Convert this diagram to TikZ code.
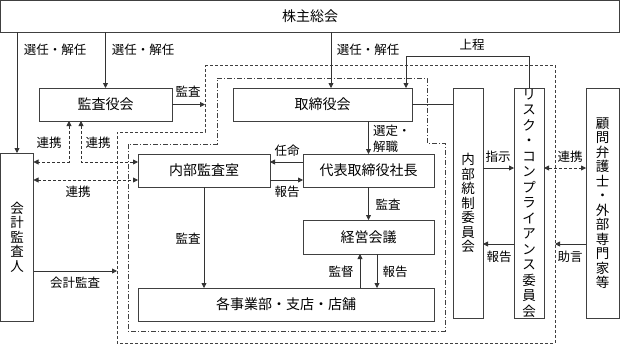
\documentclass[tikz,border=0pt]{standalone}
\usepackage{fontspec}
\setmainfont{Noto Sans CJK JP}
\usetikzlibrary{arrows.meta,calc}
\begin{document}
\begin{tikzpicture}[x=1pt,y=-1pt,
 box/.style={draw=black!75,line width=0.8pt,inner sep=0pt,outer sep=0pt,anchor=north west,font=\fontsize{14}{14}\selectfont},
 vbox/.style={box,align=center,font=\fontsize{13.5}{14.5}\selectfont},
 lbl/.style={font=\fontsize{12.5}{16}\selectfont,inner sep=0pt},
 ln/.style={draw=black!80,line width=0.8pt},
 arr/.style={ln,-{Triangle[length=5pt,width=5pt]}},
 darr/.style={ln,dash pattern=on 3pt off 2pt,{Triangle[length=5pt,width=5pt]}-{Triangle[length=5pt,width=5pt]}},
 outerb/.style={draw=black!75,line width=0.7pt,dash pattern=on 3pt off 2pt},
 innerb/.style={draw=black!75,line width=0.7pt,dash pattern=on 5pt off 2pt on 1pt off 2pt}]
\useasboundingbox (0,0) rectangle (620,345);
% frames
\draw[outerb] (205,65) -- (555,65) -- (555,343) -- (117,343) -- (117,132) -- (205,132) -- cycle;
\draw[innerb] (217,78) -- (427,78) -- (427,143) -- (445,143) -- (445,331) -- (128,331) -- (128,144) -- (217,144) -- cycle;
% boxes
\node[box,minimum width=619pt,minimum height=32pt] (kabu) at (0.5,0.5) {株主総会};
\node[box,minimum width=133pt,minimum height=33pt] (kansayaku) at (39,88) {監査役会};
\node[box,minimum width=179pt,minimum height=33pt] (torishimari) at (233,88) {取締役会};
\node[box,minimum width=132pt,minimum height=33pt] (naibu) at (138,154) {内部監査室};
\node[box,minimum width=131pt,minimum height=33pt] (daihyo) at (303,154) {代表取締役社長};
\node[box,minimum width=131pt,minimum height=34pt] (keiei) at (303,220) {経営会議};
\node[box,minimum width=296pt,minimum height=33pt] (jigyo) at (138,288) {各事業部・支店・店舗};
\node[vbox,minimum width=33pt,minimum height=168pt] (kaikei) at (0.5,153) {会\\計\\監\\査\\人};
\node[vbox,minimum width=30pt,minimum height=230pt] (naibutosei) at (453,88) {内\\部\\統\\制\\委\\員\\会};
\node[vbox,minimum width=30pt,minimum height=230pt,font=\fontsize{13.5}{15.5}\selectfont] (risk) at (514,88) {リ\\ス\\ク\\・\\コ\\ン\\プ\\ラ\\イ\\ア\\ン\\ス\\委\\員\\会};
\node[vbox,minimum width=33pt,minimum height=230pt] (komon) at (586,88) {顧\\問\\弁\\護\\士\\・\\外\\部\\専\\門\\家\\等};
% connectors from shareholders
\draw[arr] (kaikei.north |- kabu.south) -- (kaikei.north);
\node[lbl] at (55,50) {選任・解任};
\draw[arr] (kansayaku.north |- kabu.south) -- (kansayaku.north);
\node[lbl] at (143,50) {選任・解任};
\coordinate (t1) at (331,0);
\draw[arr] (t1 |- kabu.south) -- (t1 |- torishimari.north);
\node[lbl] at (368,50) {選任・解任};
\coordinate (jt) at (406,56);
\draw[arr] (risk.north) |- (jt) -- (jt |- torishimari.north);
\node[lbl] at (472,45) {上程};
\coordinate (od) at (205,104.5);
\draw[arr] (kansayaku.east) -- (od);
\node[lbl] at (188,92) {監査};
\draw[ln] (torishimari.east) -- (torishimari.east -| naibutosei.west);
\draw[arr] (torishimari.south -| daihyo.north) -- (daihyo.north);
\node[lbl,anchor=west,align=left] at (373,139) {選定・\\解職};
\coordinate (r1) at (0,162);
\coordinate (r2) at (0,180);
\draw[arr] (r1 -| daihyo.west) -- (r1 -| naibu.east);
\node[lbl] at (287,151) {任命};
\draw[arr] (r2 -| naibu.east) -- (r2 -| daihyo.west);
\node[lbl] at (287,192) {報告};
\draw[arr] (daihyo.south) -- (keiei.north);
\node[lbl] at (388,205) {監査};
\coordinate (k1) at (360,0);
\coordinate (k2) at (377,0);
\draw[arr] (k1 |- jigyo.north) -- (k1 |- keiei.south);
\node[lbl] at (341,272) {監督};
\draw[arr] (k2 |- keiei.south) -- (k2 |- jigyo.north);
\node[lbl] at (395,272) {報告};
\draw[arr] (naibu.south) -- (naibu.south |- jigyo.north);
\node[lbl] at (188,239) {監査};
% cooperation
\coordinate (c1) at (69,0);
\coordinate (c2) at (81,0);
\draw[darr] (c1 |- kansayaku.south) |- (r1 -| kaikei.east);
\node[lbl] at (49,143) {連携};
\draw[darr] (c2 |- kansayaku.south) |- (r1 -| naibu.west);
\node[lbl] at (98,143) {連携};
\draw[darr] (r2 -| kaikei.east) -- (r2 -| naibu.west);
\node[lbl] at (78,192) {連携};
\coordinate (a1) at (117,271);
\draw[arr] (a1 -| kaikei.east) -- (a1);
\node[lbl] at (75,283) {会計監査};
% right side
\coordinate (s1) at (0,168);
\coordinate (s2) at (0,244);
\draw[arr] (s1 -| naibutosei.east) -- (s1 -| risk.west);
\node[lbl] at (498,157) {指示};
\draw[arr] (s2 -| risk.west) -- (s2 -| naibutosei.east);
\node[lbl] at (499,257) {報告};
\draw[darr] (s1 -| risk.east) -- (s1 -| komon.west);
\node[lbl] at (570,157) {連携};
\coordinate (jg) at (555,244);
\draw[arr] (jg -| komon.west) -- (jg);
\node[lbl] at (570,257) {助言};
\end{tikzpicture}
\end{document}
